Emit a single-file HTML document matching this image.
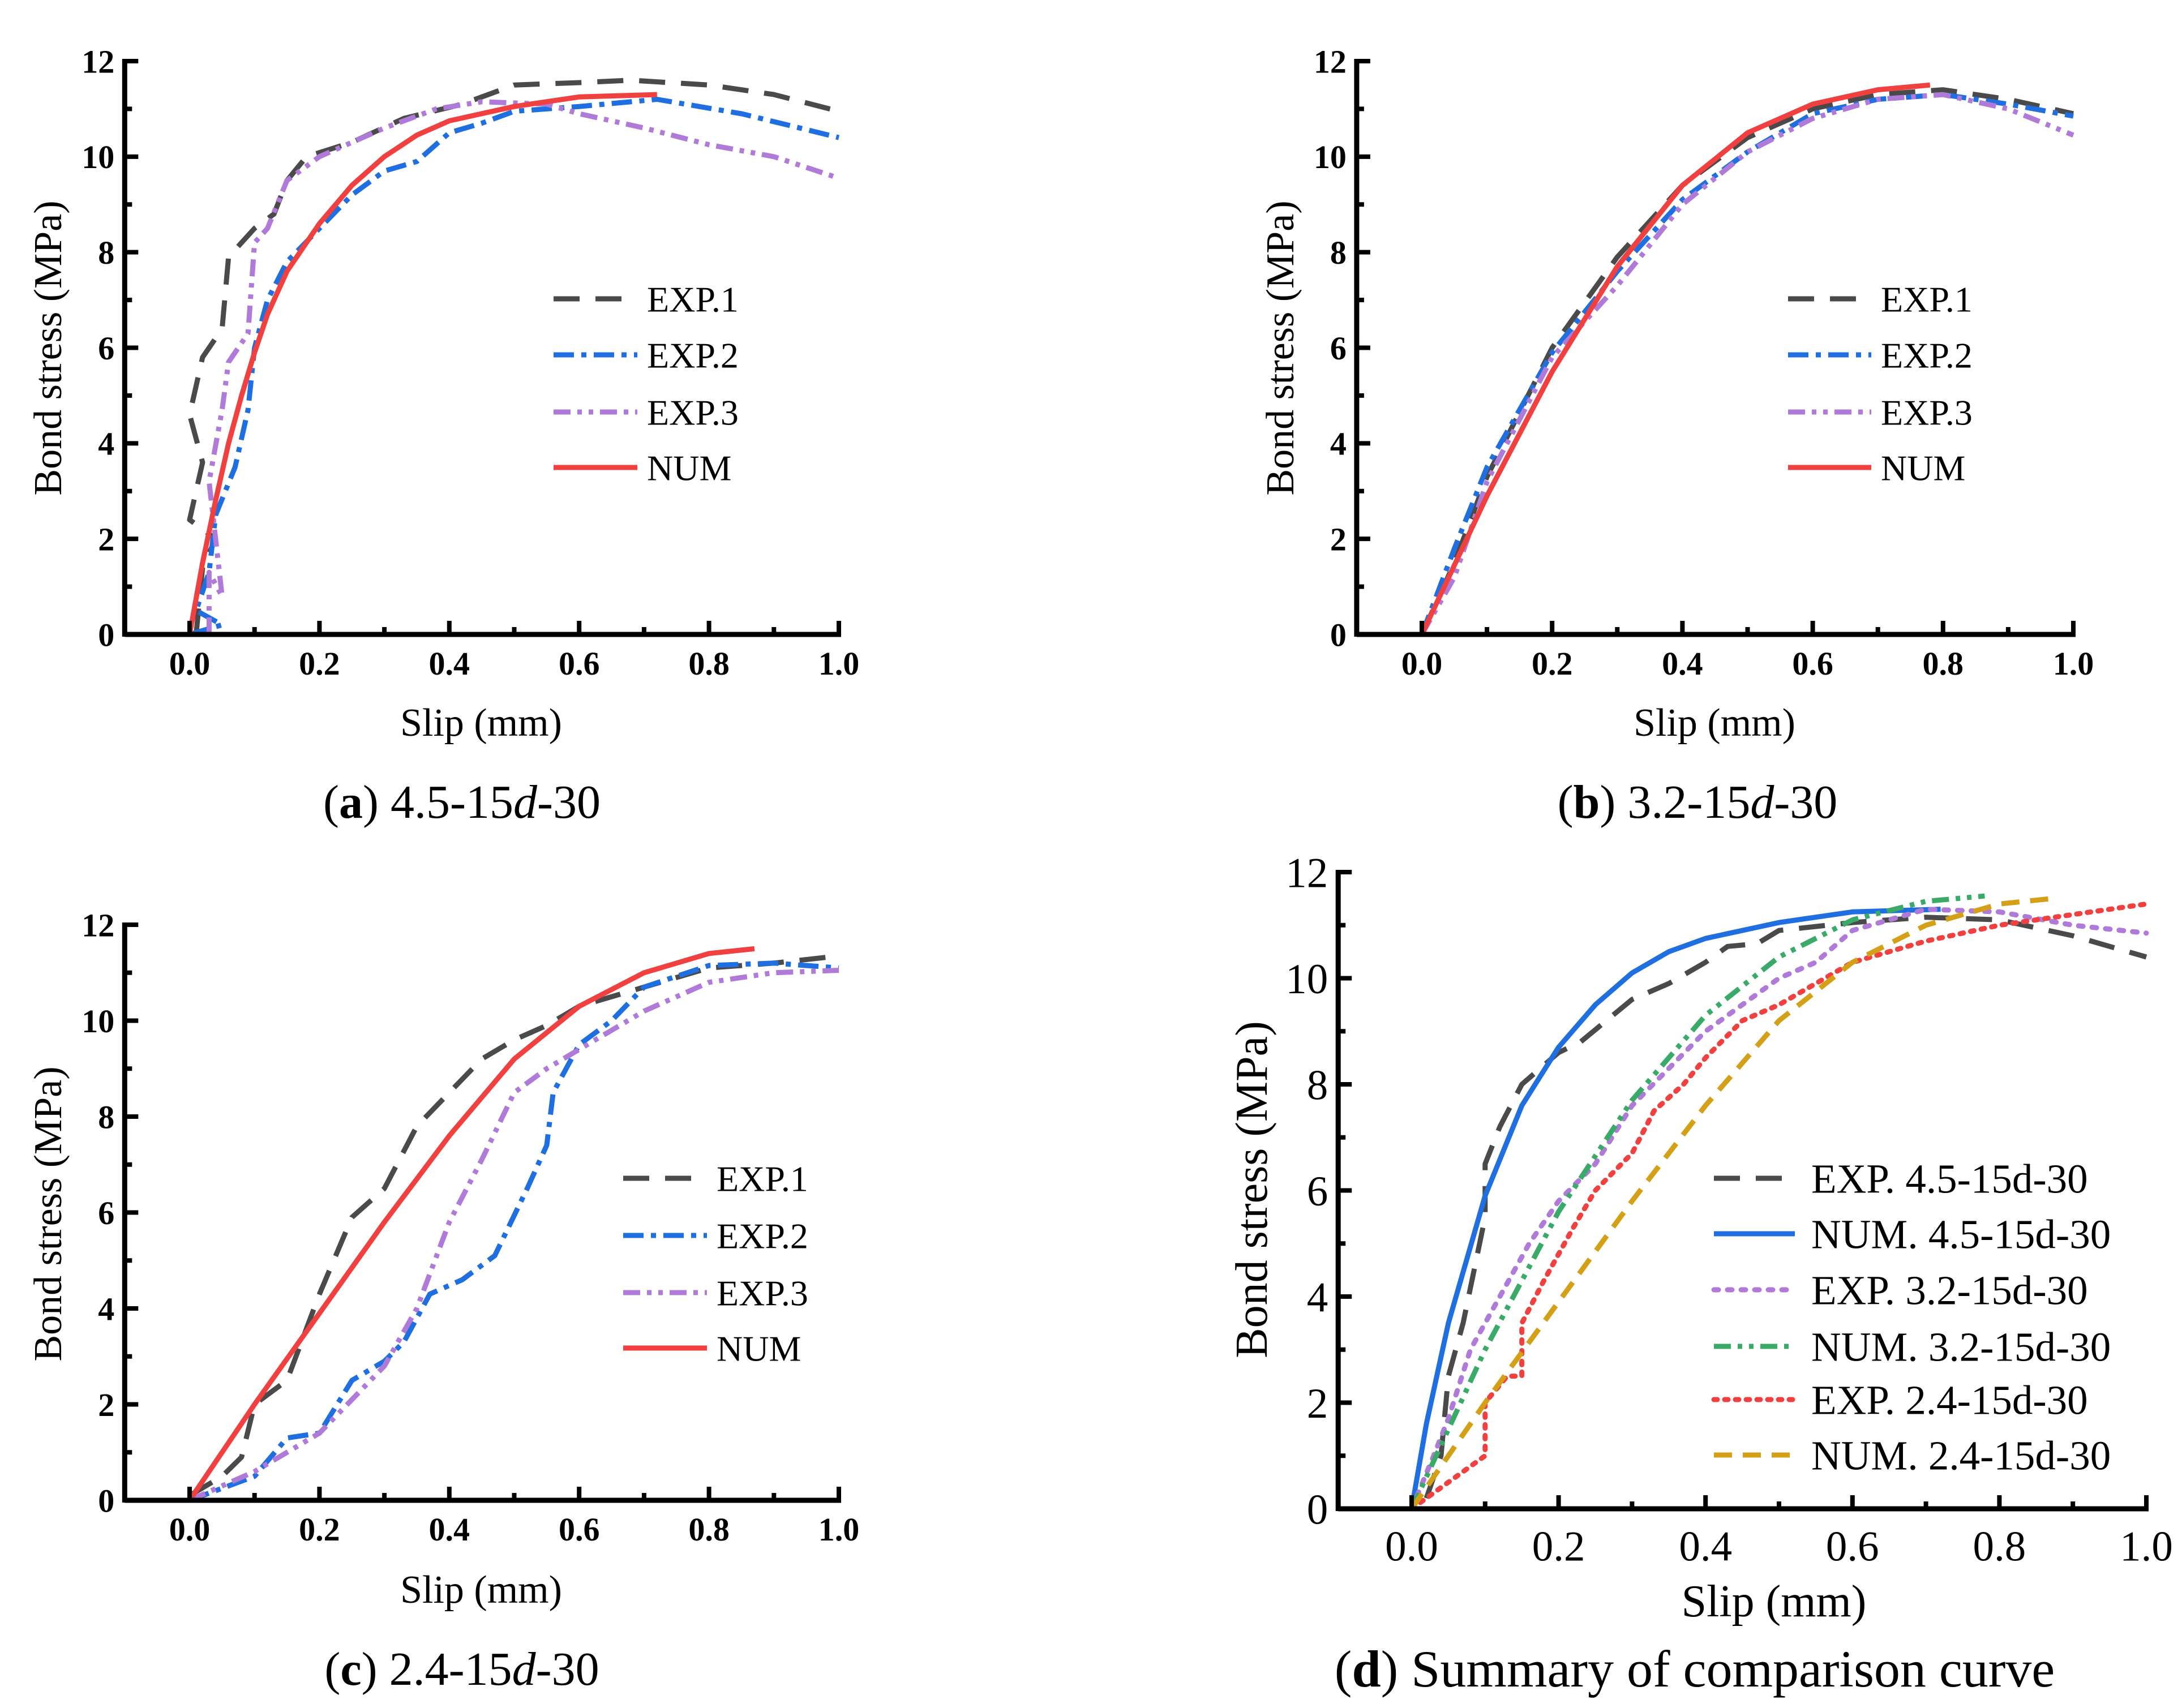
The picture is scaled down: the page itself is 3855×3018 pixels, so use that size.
<!DOCTYPE html>
<html><head><meta charset="utf-8">
<style>
html,body{margin:0;padding:0;background:#fff;}
svg{display:block;}
</style></head>
<body>
<svg id="fig" width="3855" height="3018" viewBox="0 0 3855 3018" xmlns="http://www.w3.org/2000/svg">
<rect width="3855" height="3018" fill="#fff"/>
</svg>
<script>
// ---- data: panel a ----
const aExp1X=[0.01,0.02,0.04,0.0,0.02,0.0,0.02,0.05,0.06,0.1,0.13,0.15,0.18,0.25,0.33,0.42,0.5,0.6,0.68,0.8,0.9,1.0];
const aExp1Y=[0.0,1.4,2.0,2.4,3.6,4.6,5.8,6.4,7.9,8.5,8.8,9.5,10.0,10.3,10.8,11.1,11.5,11.55,11.6,11.5,11.3,10.95];
const aExp2X=[0.0,0.05,0.01,0.03,0.04,0.07,0.09,0.1,0.12,0.15,0.2,0.25,0.3,0.35,0.4,0.45,0.5,0.6,0.72,0.85,1.0];
const aExp2Y=[0.0,0.2,0.5,1.3,2.5,3.5,4.7,6.0,7.0,7.8,8.5,9.2,9.7,9.9,10.5,10.7,10.95,11.05,11.2,10.9,10.4];
const aExp3X=[0.03,0.03,0.05,0.03,0.05,0.06,0.09,0.1,0.12,0.15,0.2,0.25,0.3,0.38,0.45,0.55,0.6,0.7,0.8,0.9,1.0];
const aExp3Y=[0.0,1.3,0.8,3.2,4.7,5.7,6.3,8.2,8.5,9.5,10.0,10.3,10.6,11.0,11.15,11.1,10.9,10.6,10.25,10.0,9.55];
const aNumX=[0,0.02,0.04,0.06,0.08,0.1,0.12,0.15,0.2,0.25,0.3,0.35,0.4,0.5,0.6,0.72];
const aNumY=[0,1.5,2.8,4.0,5.0,5.9,6.7,7.6,8.6,9.4,10.0,10.45,10.75,11.05,11.25,11.3];
// ---- data: panel b ----
const bExp1X=[0,0.05,0.1,0.2,0.3,0.4,0.5,0.6,0.7,0.8,0.9,1.0];
const bExp1Y=[0,1.5,3.3,6.0,7.9,9.4,10.4,11.0,11.3,11.4,11.2,10.9];
const bExp2X=[0,0.05,0.1,0.2,0.3,0.4,0.5,0.6,0.7,0.8,0.9,1.0];
const bExp2Y=[0,1.8,3.5,5.9,7.6,9.1,10.1,10.9,11.2,11.3,11.1,10.85];
const bExp3X=[0,0.05,0.1,0.2,0.3,0.4,0.5,0.6,0.7,0.8,0.9,1.0];
const bExp3Y=[0,1.2,3.2,5.8,7.3,9.0,10.1,10.8,11.2,11.3,11.0,10.45];
const bNumX=[0,0.1,0.2,0.3,0.4,0.5,0.6,0.7,0.78];
const bNumY=[0,2.9,5.5,7.7,9.4,10.5,11.1,11.4,11.5];
// ---- data: panel c ----
const cExp1X=[0,0.05,0.08,0.1,0.15,0.2,0.25,0.3,0.35,0.4,0.45,0.5,0.55,0.6,0.7,0.8,0.9,1.0];
const cExp1Y=[0.1,0.5,0.9,2.0,2.5,4.3,5.9,6.5,7.8,8.5,9.2,9.6,9.9,10.3,10.7,11.1,11.2,11.35];
const cExp2X=[0,0.1,0.15,0.2,0.25,0.3,0.33,0.37,0.42,0.47,0.52,0.55,0.56,0.6,0.65,0.7,0.8,0.9,1.0];
const cExp2Y=[0,0.5,1.3,1.4,2.5,2.9,3.3,4.3,4.6,5.1,6.5,7.4,8.5,9.5,10.0,10.7,11.15,11.2,11.1];
const cExp3X=[0,0.1,0.15,0.2,0.25,0.3,0.35,0.4,0.45,0.5,0.55,0.6,0.7,0.8,0.9,1.0];
const cExp3Y=[0,0.6,1.0,1.4,2.1,2.8,4.0,5.8,7.1,8.5,9.0,9.4,10.2,10.8,11.0,11.05];
const cNumX=[0,0.1,0.2,0.3,0.4,0.5,0.6,0.7,0.8,0.87];
const cNumY=[0,2.0,3.9,5.8,7.6,9.2,10.3,11.0,11.4,11.5];
// ---- data: panel d ----
const dExp45X=[0.02,0.04,0.05,0.07,0.1,0.1,0.12,0.15,0.2,0.23,0.3,0.35,0.4,0.43,0.47,0.5,0.6,0.7,0.8,0.9,1.0];
const dExp45Y=[0.2,1.0,2.5,3.5,5.5,6.5,7.2,8.0,8.6,8.8,9.6,9.9,10.3,10.6,10.65,10.9,11.05,11.15,11.1,10.8,10.4];
const dNum45X=[0,0.02,0.05,0.1,0.15,0.2,0.25,0.3,0.35,0.4,0.5,0.6,0.72];
const dNum45Y=[0,1.6,3.5,5.9,7.6,8.7,9.5,10.1,10.5,10.75,11.05,11.25,11.3];
const dExp32X=[0,0.03,0.05,0.08,0.12,0.16,0.2,0.25,0.3,0.35,0.4,0.42,0.45,0.5,0.55,0.6,0.7,0.8,0.9,1.0];
const dExp32Y=[0,1.0,1.7,3.0,4.0,5.0,5.8,6.5,7.6,8.3,9.0,9.2,9.5,10.0,10.3,10.9,11.3,11.25,11.0,10.85];
const dNum32X=[0,0.1,0.2,0.3,0.4,0.5,0.6,0.7,0.78];
const dNum32Y=[0,3.0,5.6,7.7,9.3,10.4,11.1,11.45,11.55];
const dExp24X=[0,0.05,0.08,0.1,0.1,0.13,0.15,0.15,0.18,0.22,0.25,0.3,0.33,0.37,0.4,0.45,0.5,0.55,0.6,0.65,0.7,0.8,0.9,1.0];
const dExp24Y=[0,0.5,0.8,1.0,2.0,2.5,2.5,3.5,4.3,5.3,6.0,6.7,7.5,8.0,8.5,9.2,9.5,9.9,10.3,10.5,10.7,11.0,11.2,11.4];
const dNum24X=[0,0.1,0.2,0.3,0.4,0.5,0.6,0.7,0.8,0.87];
const dNum24Y=[0,2.0,3.9,5.8,7.6,9.2,10.3,11.0,11.4,11.5];
const xTicks=[0.0,0.2,0.4,0.6,0.8,1.0];
const xTickLabels=["0.0","0.2","0.4","0.6","0.8","1.0"];
const yTicks=[0,2,4,6,8,10,12];
const yTickLabels=["0","2","4","6","8","10","12"];

const NS="http://www.w3.org/2000/svg";
const svg=document.getElementById('fig');
function mk(tag,attrs,parent){const e=document.createElementNS(NS,tag);for(const k in attrs)e.setAttribute(k,attrs[k]);(parent||svg).appendChild(e);return e;}

const GRAY="#4a4a4a",BLUE="#1f6fe0",PURP="#b07ad8",RED="#f04040",GREEN="#3aaa68",ORANGE="#d4a017";
const DASH="46,28",DASHDOT="36,13,9,13",DASHDOTDOT="30,12,8,12,8,12",DOT="6,13",DASH2="32,19";

function panel(p){
  const g=mk('g',{});
  
  
  const sx=v=>p.x0+(v)*(p.x1-p.x0);
  const sy=v=>p.y0-(v/12)*(p.y0-p.y12);
  const xl=sx(-0.1), xr=sx(1.0);
  const fw=p.bold?'bold':'normal';
  p.series.forEach(s=>{
    const pts=s.x.map((v,i)=>sx(v).toFixed(1)+','+sy(s.y[i]).toFixed(1)).join(' ');
    const l=mk('polyline',{points:pts,fill:'none',stroke:s.color,'stroke-width':p.lw,'stroke-dasharray':s.dash||'none','stroke-linecap':s.cap||'butt','stroke-linejoin':'round'},g);
    
    
  });
  const ax=mk('g',{},g);
  
  
  mk('line',{x1:xl,y1:p.y0,x2:xr+4,y2:p.y0,stroke:'#000','stroke-width':9},ax);
  mk('line',{x1:xl,y1:p.y0+4,x2:xl,y2:p.y12-4,stroke:'#000','stroke-width':9},ax);
  for(let k=0;k<=10;k++){const v=k/10;const X=sx(v);mk('line',{x1:X,y1:p.y0,x2:X,y2:p.y0-(k%2==0?24:13),stroke:'#000','stroke-width':8},ax);}
  for(let k=0;k<=12;k++){const Y=sy(k);mk('line',{x1:xl,y1:Y,x2:xl+(k%2==0?24:13),y2:Y,stroke:'#000','stroke-width':8},ax);}
  xTicks.forEach((v,i)=>{const t=mk('text',{x:sx(v),y:p.y0+p.tfs*1.22,'text-anchor':'middle','font-size':p.tfs,'font-weight':fw},ax);t.textContent=xTickLabels[i];
    });
  yTicks.forEach((v,i)=>{const t=mk('text',{x:xl-18,y:sy(v)+p.tfs*0.35,'text-anchor':'end','font-size':p.tfs,'font-weight':fw},ax);t.textContent=yTickLabels[i];
    });
  const xt=mk('text',{x:p.xtX,y:p.xtY,'text-anchor':'middle','font-size':p.afs},g);xt.textContent='Slip (mm)';
  
  const yt=mk('text',{x:0,y:0,'text-anchor':'middle','font-size':p.afs,transform:`translate(${p.ytX},${p.ytY}) rotate(-90)`},g);yt.textContent='Bond stress (MPa)';
  
  p.series.forEach((s,i)=>{
    const Y=p.legY[i];
    const le=mk('g',{},g);
    
    
    mk('line',{x1:p.legX1,y1:Y,x2:p.legX2,y2:Y,stroke:s.color,'stroke-width':p.lw,'stroke-dasharray':s.dash||'none','stroke-linecap':s.cap||'butt'},le);
    const t=mk('text',{x:p.legT,y:Y+p.lfs*0.35,'font-size':p.lfs},le);t.textContent=s.label;
  });
  const c=mk('text',{x:p.capX,y:p.capY,'text-anchor':'middle','font-size':p.cfs},g);
  
  c.innerHTML=p.cap;
}
svg.setAttribute('font-family','"Liberation Serif", serif');

const std3=(e1x,e1y,e2x,e2y,e3x,e3y,nx,ny)=>[
 {id:'exp-1',label:'EXP.1',x:e1x,y:e1y,color:GRAY,dash:DASH},
 {id:'exp-2',label:'EXP.2',x:e2x,y:e2y,color:BLUE,dash:DASHDOT},
 {id:'exp-3',label:'EXP.3',x:e3x,y:e3y,color:PURP,dash:DASHDOTDOT},
 {id:'num',label:'NUM',x:nx,y:ny,color:RED}];

panel({name:'panel-a',x0:335,x1:1482,y0:1121,y12:108,lw:9,bold:true,tfs:58,afs:70,lfs:64,cfs:84,
 xtX:850,xtY:1300,ytX:108,ytY:615,legX1:978,legX2:1126,legT:1143,legY:[528,627,728,826],
 capX:816,capY:1445,cap:'(<tspan font-weight="bold">a</tspan>) 4.5-15<tspan font-style="italic">d</tspan>-30',
 series:std3(aExp1X,aExp1Y,aExp2X,aExp2Y,aExp3X,aExp3Y,aNumX,aNumY)});
panel({name:'panel-b',x0:2512,x1:3663,y0:1121,y12:108,lw:9,bold:true,tfs:58,afs:70,lfs:64,cfs:84,
 xtX:3029,xtY:1300,ytX:2285,ytY:615,legX1:3159,legX2:3306,legT:3323,legY:[528,627,728,826],
 capX:2999,capY:1445,cap:'(<tspan font-weight="bold">b</tspan>) 3.2-15<tspan font-style="italic">d</tspan>-30',
 series:std3(bExp1X,bExp1Y,bExp2X,bExp2Y,bExp3X,bExp3Y,bNumX,bNumY)});
panel({name:'panel-c',x0:335,x1:1482,y0:2651,y12:1634,lw:9,bold:true,tfs:58,afs:70,lfs:64,cfs:84,
 xtX:850,xtY:2832,ytX:108,ytY:2145,legX1:1101,legX2:1249,legT:1266,legY:[2082,2183,2284,2382],
 capX:816,capY:2977,cap:'(<tspan font-weight="bold">c</tspan>) 2.4-15<tspan font-style="italic">d</tspan>-30',
 series:std3(cExp1X,cExp1Y,cExp2X,cExp2Y,cExp3X,cExp3Y,cNumX,cNumY)});
panel({name:'panel-d',x0:2494,x1:3792,y0:2666,y12:1541,lw:9,bold:false,tfs:75,afs:80,lfs:73,cfs:92,
 xtX:3134,xtY:2856,ytX:2238,ytY:2102,legX1:3028,legX2:3171,legT:3200,legY:[2082,2180,2279,2379,2473,2571],
 capX:2994,capY:2980,cap:'(<tspan font-weight="bold">d</tspan>) Summary of comparison curve',
 series:[
 {id:'exp-4-5',label:'EXP. 4.5-15d-30',x:dExp45X,y:dExp45Y,color:GRAY,dash:DASH},
 {id:'num-4-5',label:'NUM. 4.5-15d-30',x:dNum45X,y:dNum45Y,color:BLUE},
 {id:'exp-3-2',label:'EXP. 3.2-15d-30',x:dExp32X,y:dExp32Y,color:PURP,dash:"8,16",cap:'round'},
 {id:'num-3-2',label:'NUM. 3.2-15d-30',x:dNum32X,y:dNum32Y,color:GREEN,dash:DASHDOTDOT},
 {id:'exp-2-4',label:'EXP. 2.4-15d-30',x:dExp24X,y:dExp24Y,color:RED,dash:DOT,cap:'round'},
 {id:'num-2-4',label:'NUM. 2.4-15d-30',x:dNum24X,y:dNum24Y,color:ORANGE,dash:DASH2}]});
</script>
</body></html>
